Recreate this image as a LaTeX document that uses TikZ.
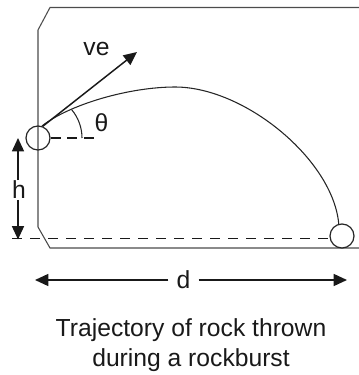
\documentclass[tikz,border=0pt]{standalone}
\usepackage{fontspec}
\setmainfont{Liberation Sans}
\usetikzlibrary{arrows.meta}
\begin{document}
\begin{tikzpicture}[x=0.75pt,y=-0.75pt,
  font=\fontsize{18.5}{22}\selectfont,
  frame/.style={draw=black!70, line width=0.8pt},
  arr/.style={draw=black!90, line width=1.1pt, -{Triangle[length=10pt,width=9pt]}},
  dashline/.style={draw=black!90, line width=1.1pt, dash pattern=on 7.5pt off 6pt},
  shortdash/.style={draw=black!90, line width=1.1pt, dash pattern=on 7.5pt off 5pt},
  curve/.style={draw=black!85, line width=0.8pt},
  rock/.style={circle, draw=black!85, line width=0.9pt, minimum size=18pt, inner sep=0pt},
  lbl/.style={text=black!90, inner sep=0pt}]
\useasboundingbox (0,0) rectangle (359,375);
% rock face
\draw[frame] (359,7.5) -- (50,7.5) -- (38,30) -- (38,227) -- (50,248) -- (359,248);
% rocks
\node[rock] (r1) at (38,138) {};
\node[rock, fill=white] (r2) at (342,236) {};
% dashed reference lines
\coordinate (hd) at (95,138);
\draw[shortdash] (r1.east) -- (hd);
\coordinate (dl) at (12,238.5);
\draw[dashline] (dl) -- (dl -| r2.west);
% trajectory
\draw[curve] (r1.72) .. controls (70,104) and (130,87) .. (175,87)
  .. controls (245,87) and (333,160) .. (r2.105);
% velocity
\coordinate (vtip) at (137,52);
\draw[arr] (r1.68) -- (vtip);
\node[lbl, anchor=base] (ve) at (96.5,55) {ve};
% angle
\draw[curve] (82,138) arc[start angle=0, end angle=40, radius=33pt];
\node[lbl] (th) at (101.5,122.5) {θ};
% h
\node[lbl, inner ysep=0.5pt] (h) at (19,190) {h};
\coordinate (htop) at (18,138);
\coordinate (hbot) at (18,239.5);
\draw[arr] (h.north -| htop) -- (htop);
\draw[arr] (h.south -| hbot) -- (hbot);
% d
\node[lbl, inner xsep=6pt] (d) at (183.5,280) {d};
\coordinate (dL) at (35,280);
\coordinate (dR) at (347,280);
\draw[arr] (d.west) -- (dL);
\draw[arr] (d.east) -- (dR);
% caption
\node[lbl, anchor=base] (c1) at (191,336) {Trajectory of rock thrown};
\node[lbl, anchor=base] (c2) at (191,366) {during a rockburst};
\end{tikzpicture}
\end{document}
